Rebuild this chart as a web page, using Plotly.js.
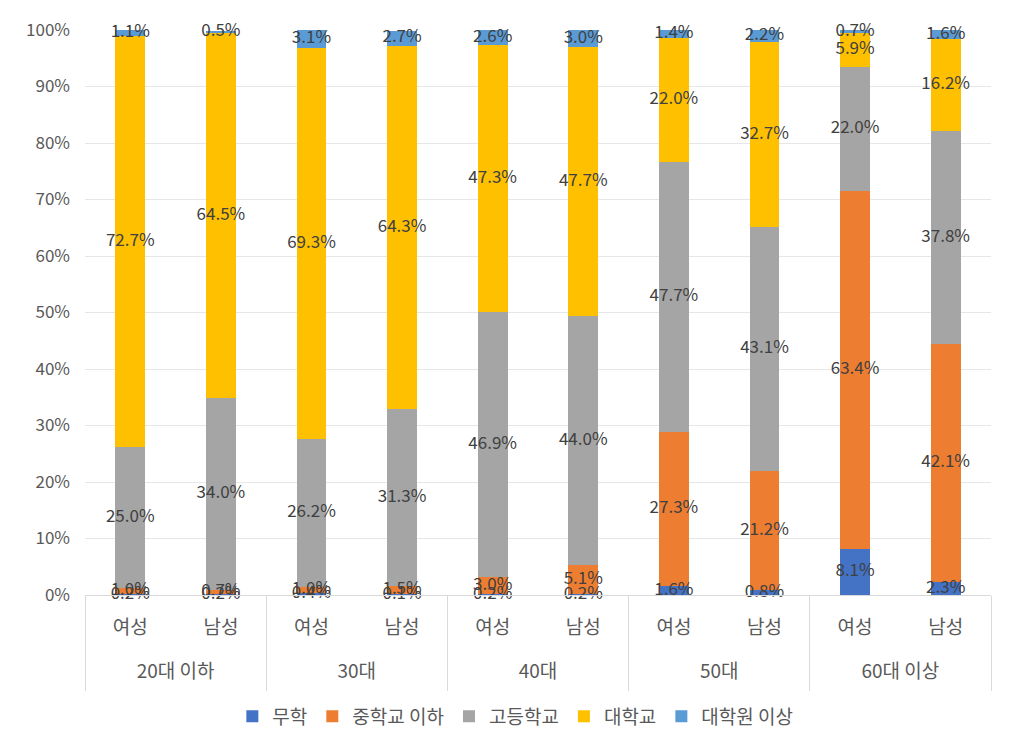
<!DOCTYPE html>
<html><head><meta charset="utf-8">
<script src="https://cdn.plot.ly/plotly-3.0.1.min.js"></script>
<style>html,body{margin:0;padding:0;background:#fff;}#chart{width:1011px;height:748px;}</style>
</head><body><div id="chart"></div>
<script>
const ageGroups = ["20대 이하","20대 이하","30대","30대","40대","40대","50대","50대","60대 이상","60대 이상"];
const genders = ["여성","남성","여성","남성","여성","남성","여성","남성","여성","남성"];
const groupNames = ["20대 이하","30대","40대","50대","60대 이상"];
const seriesNames = ["무학","중학교 이하","고등학교","대학교","대학원 이상"];
const seriesColors = ["#4472C4","#ED7D31","#A5A5A5","#FFC000","#5B9BD5"];
const noEdu     = [0.2, 0.2, 0.4, 0.1, 0.2, 0.2, 1.6, 0.8, 8.1, 2.3];
const middle    = [1.0, 0.7, 1.0, 1.5, 3.0, 5.1, 27.3, 21.2, 63.4, 42.1];
const high      = [25.0, 34.0, 26.2, 31.3, 46.9, 44.0, 47.7, 43.1, 22.0, 37.8];
const college   = [72.7, 64.5, 69.3, 64.3, 47.3, 47.7, 22.0, 32.7, 5.9, 16.2];
const graduate  = [1.1, 0.5, 3.1, 2.7, 2.6, 3.0, 1.4, 2.2, 0.7, 1.6];
const yTicks = [0,10,20,30,40,50,60,70,80,90,100];

const series = [noEdu, middle, high, college, graduate];
const keys = ageGroups.map((a, i) => a + '|' + genders[i]);
const n = keys.length;
const groupCenters = groupNames.map(g => {
  const idx = ageGroups.map((a, i) => a === g ? i : -1).filter(i => i >= 0);
  return (idx[0] + idx[idx.length - 1]) / 2;
});
const bounds = [-0.5];
groupNames.forEach(g => { bounds.push(ageGroups.lastIndexOf(g) + 0.5); });

const FONT = 'Noto Sans CJK KR, sans-serif';
const traces = [];
series.forEach((vals, i) => {
  traces.push({type:'bar', x:keys, y:vals, name:seriesNames[i], marker:{color:seriesColors[i]}, hoverinfo:'skip'});
});
const cum = new Array(n).fill(0);
series.forEach((vals, i) => {
  const mids = vals.map((v, j) => cum[j] + v/2);
  vals.forEach((v, j) => cum[j] += v);
  traces.push({type:'scatter', mode:'text', x:keys, y:mids, text:vals.map(v => v.toFixed(1)+'%'),
    textposition:'middle center', textfont:{size:17, color:'#404040', family:FONT},
    showlegend:false, hoverinfo:'skip', cliponaxis:false});
});
traces.push({type:'scatter', mode:'markers', x:[groupCenters[0]], y:[0], xaxis:'x2', yaxis:'y',
  marker:{opacity:0}, showlegend:false, hoverinfo:'skip'});

const layout = {
  width:1011, height:748,
  margin:{l:85, r:20, t:30, b:151},
  barmode:'stack', bargap:0.67,
  paper_bgcolor:'#fff', plot_bgcolor:'#fff',
  font:{family:FONT, size:17, color:'#595959'},
  xaxis:{type:'category', categoryarray:keys, tickvals:keys, ticktext:genders,
    range:[-0.5, n - 0.5], showgrid:false, showline:true, linecolor:'#d9d9d9',
    ticks:'', tickfont:{size:19, color:'#595959'}, ticklabelstandoff:15},
  xaxis2:{overlaying:'x', anchor:'y', side:'bottom', type:'linear', range:[-0.5, n - 0.5],
    tickvals:groupCenters, ticktext:groupNames, ticks:'', showgrid:false, zeroline:false, showline:false,
    tickfont:{size:19, color:'#595959'}, ticklabelstandoff:63,
    minor:{tickvals:bounds, ticks:'outside', ticklen:95, tickcolor:'#d9d9d9', tickwidth:1, showgrid:false}},
  yaxis:{range:[0,100], tickvals:yTicks, ticktext:yTicks.map(v => v + '%'), showgrid:true, gridcolor:'#e7e7e7',
    zeroline:false, showline:false, tickfont:{size:17, color:'#595959'}, ticklen:0, ticklabelstandoff:14},
  legend:{orientation:'h', x:0.475, xanchor:'center', y:-0.215, yanchor:'middle',
    font:{size:19, color:'#595959'}, traceorder:'normal', itemwidth:30},
  showlegend:true
};
Plotly.newPlot('chart', traces, layout, {displayModeBar:false, staticPlot:true});
</script></body></html>
